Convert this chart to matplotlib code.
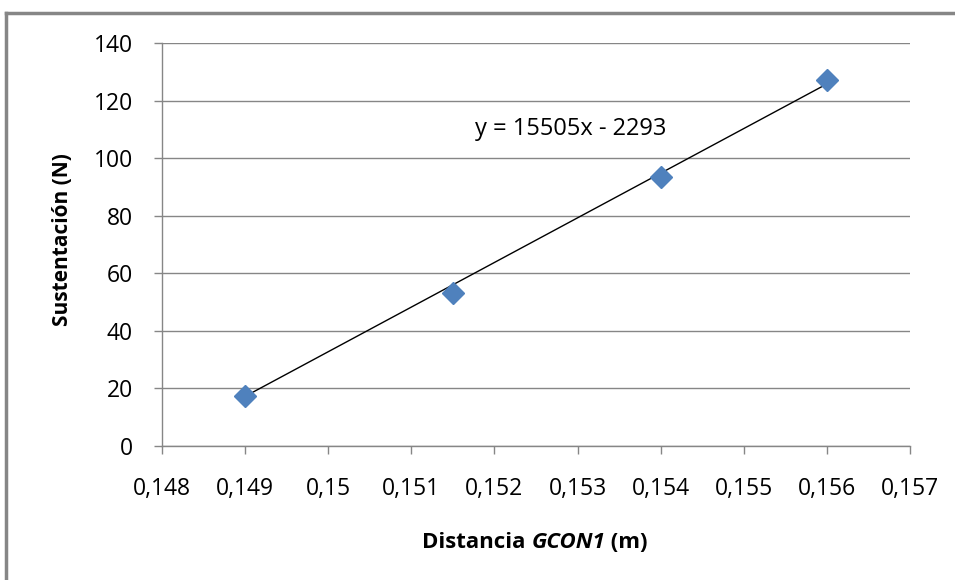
import numpy as np
import matplotlib
matplotlib.use("Agg")
import matplotlib.pyplot as plt
from matplotlib.lines import Line2D
from matplotlib.offsetbox import TextArea, HPacker, AnnotationBbox

# Measured data: lift vs. distance GCON1
distancia = [0.149, 0.1515, 0.154, 0.156]
sustentacion = [17.2, 53.1, 93.6, 127.3]

# Linear trendline coefficients
pendiente = 15505
ordenada = -2293
ecuacion = "y = 15505x - 2293"

x_ticks = [0.148, 0.149, 0.150, 0.151, 0.152, 0.153, 0.154, 0.155, 0.156, 0.157]
x_tick_labels = ["0,148", "0,149", "0,15", "0,151", "0,152", "0,153",
                 "0,154", "0,155", "0,156", "0,157"]
y_ticks = [0, 20, 40, 60, 80, 100, 120, 140]

plt.rcParams['font.family'] = ['Open Sans', 'DejaVu Sans']

W, H = 955, 580
fig = plt.figure(figsize=(W / 100, H / 100), dpi=100)
ax = fig.add_axes([162 / W, 1 - 446 / H, (910 - 162) / W, (446 - 43) / H])

grid_c = "#868686"
ax.set_xlim(0.148, 0.157)
ax.set_ylim(0, 140)
ax.set_yticks(y_ticks)
ax.set_yticklabels([str(v) for v in y_ticks])
ax.set_xticks(x_ticks)
ax.set_xticklabels(x_tick_labels)
ax.yaxis.grid(True, color=grid_c, linewidth=1.0)
ax.set_axisbelow(True)
for s in ["top", "right"]:
    ax.spines[s].set_visible(False)
for s in ["left", "bottom"]:
    ax.spines[s].set_color(grid_c)
    ax.spines[s].set_linewidth(1.0)
ax.tick_params(axis="both", direction="out", length=6, width=1.0, color=grid_c,
               labelsize=16.5, labelcolor="#000000")
ax.tick_params(axis="x", pad=16)
ax.tick_params(axis="y", pad=15)

# Trendline from the fitted equation
xl = np.array([min(distancia), max(distancia)])
ax.plot(xl, pendiente * xl + ordenada, color="black", linewidth=1.0, zorder=2)

# Data points
ax.plot(distancia, sustentacion, linestyle="none", marker="D", markersize=11,
        color="#4F81BD", markeredgecolor="#4F81BD", zorder=3)

ax.text(0.15292, 110.1, ecuacion, ha="center", va="center", fontsize=17,
        color="#000000")

# Y-axis title
fig.text(62 / W, 1 - 240 / H, "Sustentación (N)", rotation=90, ha="center",
         va="center", fontsize=15, fontweight="bold")

# X-axis title with italic segment
parts = [TextArea("Distancia ", textprops=dict(fontsize=16, fontweight="bold")),
         TextArea("GCON1", textprops=dict(fontsize=16, fontweight="bold", style="italic")),
         TextArea(" (m)", textprops=dict(fontsize=16, fontweight="bold"))]
box = HPacker(children=parts, align="baseline", pad=0, sep=0)
ab = AnnotationBbox(box, (535 / W, 1 - 542 / H), xycoords="figure fraction",
                    frameon=False, box_alignment=(0.5, 0.5))
fig.add_artist(ab)

# Outer chart frame
frame_c = "#868686"
fig.add_artist(Line2D([6 / W, 6 / W], [0, 1 - 13 / H], transform=fig.transFigure,
                      color=frame_c, linewidth=2.5))
fig.add_artist(Line2D([6 / W, 1], [1 - 13 / H, 1 - 13 / H], transform=fig.transFigure,
                      color=frame_c, linewidth=2.5))

fig.savefig("out.png", dpi=100)
